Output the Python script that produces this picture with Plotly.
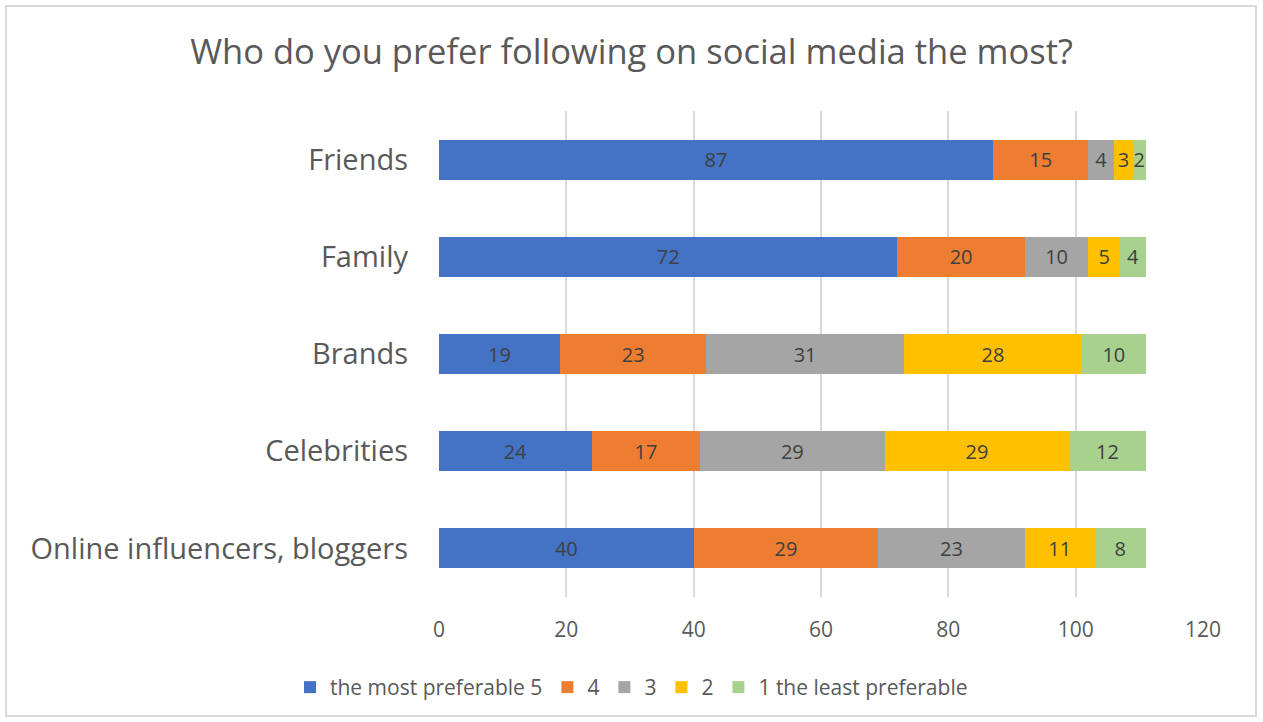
import plotly.graph_objects as go

categories = ["Online influencers, bloggers", "Celebrities", "Brands", "Family", "Friends"]
series_names = ["the most preferable 5", "4", "3", "2", "1 the least preferable"]
v5 = [40, 24, 19, 72, 87]
v4 = [29, 17, 23, 20, 15]
v3 = [23, 29, 31, 10, 4]
v2 = [11, 29, 28, 5, 3]
v1 = [8, 12, 10, 4, 2]
colors = ["#4472C4", "#ED7D31", "#A5A5A5", "#FFC000", "#A9D18E"]
tick_vals = [0, 20, 40, 60, 80, 100, 120]

fig = go.Figure()
for name, vals, col in zip(series_names, [v5, v4, v3, v2, v1], colors):
    fig.add_trace(go.Bar(
        y=categories, x=vals, name=name, orientation="h",
        marker=dict(color=col, line=dict(width=0)),
        text=vals, textposition="inside", insidetextanchor="middle",
        textfont=dict(color="#404040", size=20, family="Open Sans"),
        width=0.41,
    ))

fig.update_layout(
    barmode="stack",
    width=1263, height=722,
    paper_bgcolor="white", plot_bgcolor="white",
    margin=dict(l=439, r=60, t=111, b=125),
    title=dict(text="Who do you prefer following on social media the most?",
               x=0.5, xanchor="center", xref="container",
               y=1 - 52 / 722, yanchor="middle", yref="container",
               font=dict(size=34.5, color="#595959", family="Open Sans")),
    font=dict(family="Open Sans", color="#595959"),
    uniformtext=dict(minsize=20, mode="show"),
    xaxis=dict(range=[0, 120], tickvals=tick_vals, showgrid=True,
               gridcolor="#D9D9D9", gridwidth=2, zeroline=False,
               tickfont=dict(size=21, color="#595959"), ticks="",
               ticklabelstandoff=18),
    yaxis=dict(showgrid=False, ticks="", ticklabelstandoff=30,
               tickfont=dict(size=29, color="#595959")),
    legend=dict(orientation="h", x=0.5, xanchor="center", xref="container",
                y=(722 - 667) / 722, yanchor="top", yref="container",
                font=dict(size=21, color="#595959"), traceorder="normal"),
)
fig.add_shape(type="rect", xref="paper", yref="paper",
              x0=(6 - 439) / 764, x1=(1256 - 439) / 764,
              y0=-(716 - 597) / 486, y1=1 + (111 - 6) / 486,
              line=dict(color="#D9D9D9", width=2), fillcolor="rgba(0,0,0,0)")
fig.write_html("out.html")
